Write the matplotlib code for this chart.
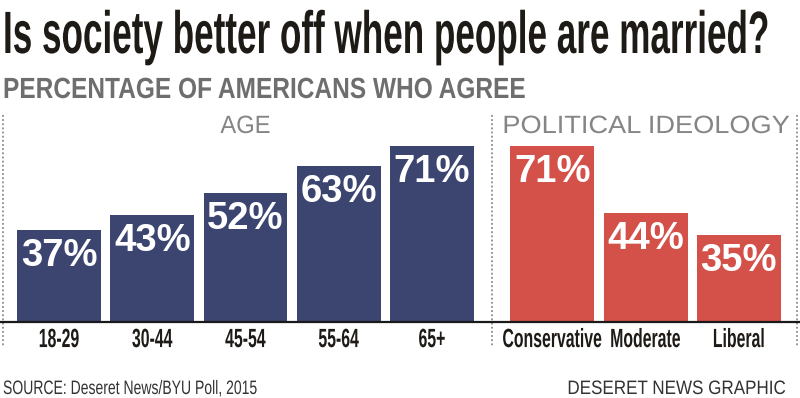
import matplotlib
matplotlib.use("Agg")
import matplotlib.pyplot as plt
from matplotlib.patheffects import AbstractPathEffect
from matplotlib.transforms import Affine2D
import numpy as np

age_groups = ["18-29", "30-44", "45-54", "55-64", "65+"]
age_pct = [37, 43, 52, 63, 71]
ideology_groups = ["Conservative", "Moderate", "Liberal"]
ideology_pct = [71, 44, 35]

title = "Is society better off when people are married?"
subtitle = "PERCENTAGE OF AMERICANS WHO AGREE"
source = "SOURCE: Deseret News/BYU Poll, 2015"
credit = "DESERET NEWS GRAPHIC"

NAVY = "#3c4470"
RED = "#d4514a"
INK = "#1e1a16"
GRAY = "#6e6e6e"
W, H = 800, 398
FONT = "Liberation Sans"


class Stretch(AbstractPathEffect):
    """stretch glyphs vertically from the baseline, gives a condensed face"""
    def __init__(self, sy):
        super().__init__()
        self.sy = sy

    def draw_path(self, renderer, gc, tpath, affine, rgbFace=None):
        renderer.draw_path(gc, tpath, Affine2D().scale(1, self.sy) + affine, rgbFace)


fig = plt.figure(figsize=(W / 100, H / 100), dpi=100)
fig.patch.set_facecolor("white")


def fit(txt, width_px):
    # shrink the font until the text is width_px wide, then stretch it
    # back up to its height, so it looks like the condensed print face
    size = txt.get_fontsize()
    w = txt.get_window_extent(fig.canvas.get_renderer()).width
    new = size * width_px / w
    txt.set_fontsize(new)
    txt.set_path_effects([Stretch(size / new)])


def ftext(x, y, s, **kw):
    return fig.text(x / W, 1 - y / H, s, family=FONT, va="baseline", **kw)


# axes: baseline at y=322px, 216px tall, spans whole width
ax = fig.add_axes([0, (H - 322) / H, 1, 216 / H])
gap = 1.29
age_x = np.arange(len(age_groups))
ideo_x = age_x[-1] + gap + np.arange(len(ideology_groups))
bw = 0.9

ax.bar(age_x, age_pct, width=bw, color=NAVY, zorder=1)
ax.bar(ideo_x, ideology_pct, width=bw, color=RED, zorder=1)

for x, v in zip(np.concatenate([age_x, ideo_x]), age_pct + ideology_pct):
    ax.annotate(f"{v}%", (x, v), xytext=(0, -26), textcoords="offset points",
                ha="center", va="baseline", color="white", fontsize=27.5,
                fontweight="bold", family=FONT)

ax.set_xlim(-59 / 93.25, 741 / 93.25)
ax.set_ylim(0, 216 / 2.48)
for s in ["top", "left", "right"]:
    ax.spines[s].set_visible(False)
ax.spines["bottom"].set_color("#1a1a1a")
ax.spines["bottom"].set_linewidth(1.6)
ax.set_yticks([])
ax.set_xticks(np.concatenate([age_x, ideo_x]), age_groups + ideology_groups)
# 19pt bold squeezed to 60% width
ax.tick_params(axis="x", length=0, pad=9.4, labelsize=19 * 0.6, labelcolor=INK)
for lab in ax.get_xticklabels():
    lab.set_family(FONT)
    lab.set_fontweight("bold")
    lab.set_path_effects([Stretch(1 / 0.6)])

# dotted group separators
sep = (age_x[-1] + ideo_x[0]) / 2
for xs in [-0.6, sep, 7.914]:
    ax.plot([xs, xs], [0.958, -0.11], transform=ax.get_xaxis_transform(),
            clip_on=False, color="#8c8c8c", lw=1.3, ls=(0, (1, 1.3)), zorder=0)

# group headings
hy = (322 - 133) / 216
t = ax.text(age_x.mean(), hy, "AGE", transform=ax.get_xaxis_transform(),
            ha="center", va="baseline", fontsize=18, color="#858585", family=FONT)
fit(t, 50)
t = ax.text(ideo_x.mean(), hy, "POLITICAL IDEOLOGY", transform=ax.get_xaxis_transform(),
            ha="center", va="baseline", fontsize=18, color="#858585", family=FONT)
fit(t, 287)

# titles and footer
t = ftext(3, 53, title, fontsize=43, fontweight="bold", color=INK, ha="left")
fit(t, 767)
t = ftext(3, 98, subtitle, fontsize=21, fontweight="bold", color=GRAY, ha="left")
fit(t, 523)
t = ftext(3, 394, source, fontsize=14, color="#333333", ha="left")
fit(t, 255)
t = ftext(785, 394, credit, fontsize=14, color="#333333", ha="right")
fit(t, 219)

fig.savefig("out.png", dpi=100, facecolor="white")
